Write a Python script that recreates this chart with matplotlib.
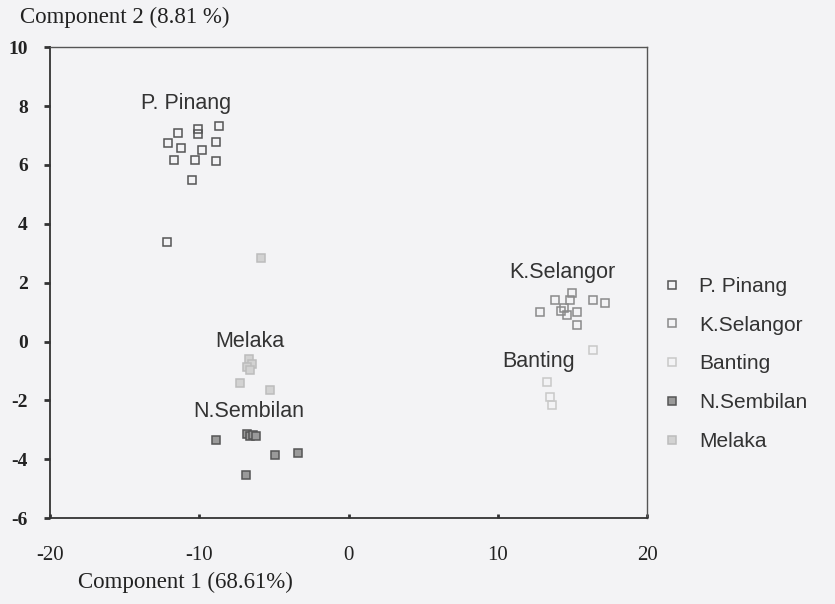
import matplotlib
matplotlib.use("Agg")
import matplotlib.pyplot as plt

# ---- data ----
groups = ["P. Pinang", "K.Selangor", "Banting", "N.Sembilan", "Melaka"]

pinang_x = [-11.4, -12.1, -11.2, -10.1, -10.1, -8.7, -8.9, -9.8, -11.7, -10.3, -8.9, -10.5, -12.2]
pinang_y = [7.08, 6.74, 6.57, 7.21, 7.04, 7.32, 6.77, 6.50, 6.16, 6.16, 6.13, 5.48, 3.38]

selangor_x = [12.8, 13.8, 15.0, 14.8, 14.4, 14.6, 15.3, 15.3, 16.4, 17.2, 14.2]
selangor_y = [1.00, 1.41, 1.64, 1.41, 1.13, 0.90, 1.00, 0.56, 1.41, 1.30, 1.05]

banting_x = [16.4, 13.3, 13.5, 13.6]
banting_y = [-0.29, -1.38, -1.89, -2.16]

sembilan_x = [-6.8, -6.6, -6.4, -6.2, -8.9, -4.9, -3.4, -6.9]
sembilan_y = [-3.15, -3.20, -3.18, -3.22, -3.35, -3.86, -3.79, -4.54]

melaka_x = [-6.7, -6.5, -6.8, -6.6, -7.3, -5.3, -5.9]
melaka_y = [-0.60, -0.75, -0.85, -0.95, -1.41, -1.65, 2.83]

x_ticks = [-20, -10, 0, 10, 20]
y_ticks = [10, 8, 6, 4, 2, 0, -2, -4, -6]

# label positions for in-plot group names
label_text = ["P. Pinang", "Melaka", "N.Sembilan", "K.Selangor", "Banting"]
label_x = [-10.9, -6.6, -6.7, 14.3, 12.7]
label_y = [8.1, 0.0, -2.36, 2.36, -0.67]

bg = "#f3f3f5"
fig = plt.figure(figsize=(8.35, 6.04), dpi=100, facecolor=bg)
ax = fig.add_axes([0.060, 0.142, 0.715, 0.780])
ax.set_facecolor(bg)

styles = {
    "P. Pinang": dict(mfc="none", mec="#555555"),
    "K.Selangor": dict(mfc="none", mec="#8a8a8a"),
    "Banting": dict(mfc="none", mec="#c8c8c8"),
    "N.Sembilan": dict(mfc="#9a9a9a", mec="#555555"),
    "Melaka": dict(mfc="#d2d2d2", mec="#bcbcbc"),
}
data = {
    "P. Pinang": (pinang_x, pinang_y),
    "K.Selangor": (selangor_x, selangor_y),
    "Banting": (banting_x, banting_y),
    "N.Sembilan": (sembilan_x, sembilan_y),
    "Melaka": (melaka_x, melaka_y),
}
for g in groups:
    xs, ys = data[g]
    ax.plot(xs, ys, linestyle="none", marker="s", markersize=5.5,
            markeredgewidth=1.1, label=g, **styles[g])

for t, x, y in zip(label_text, label_x, label_y):
    ax.text(x, y, t, ha="center", va="center", fontsize=15.5,
            family="Liberation Sans", color="#333333")

ax.set_xlim(-20, 20)
ax.set_ylim(-6, 10)
ax.set_xticks(x_ticks)
ax.set_yticks(y_ticks)
ax.set_xticklabels([str(v) for v in x_ticks], family="Liberation Serif", fontsize=15, color="#222222")
ax.set_yticklabels([str(v) for v in y_ticks], family="Liberation Serif", fontsize=14,
                   fontweight="bold", color="#222222")
ax.tick_params(axis="x", direction="in", length=3, width=2, pad=20, colors="#333333")
ax.tick_params(axis="y", direction="out", length=4, width=2, pad=12, colors="#333333")
for lab in ax.get_xticklabels() + ax.get_yticklabels():
    lab.set_color("#222222")
for s in ["left", "bottom"]:
    ax.spines[s].set_color("#333333")
    ax.spines[s].set_linewidth(1.3)
for s in ["top", "right"]:
    ax.spines[s].set_color("#555555")
    ax.spines[s].set_linewidth(1.0)

fig.text(0.024, 0.972, "Component 2 (8.81 %)", family="Liberation Serif",
         fontsize=16.5, color="#222222", ha="left", va="center")
fig.text(0.094, 0.035, "Component 1 (68.61%)", family="Liberation Serif",
         fontsize=16.5, color="#222222", ha="left", va="center")

leg = ax.legend(loc="upper left", bbox_to_anchor=(1.01, 0.53), frameon=False,
                prop={"family": "Liberation Sans", "size": 15},
                handlelength=1.0, handletextpad=0.8, labelspacing=0.95,
                borderaxespad=0.0)
for txt in leg.get_texts():
    txt.set_color("#333333")

fig.savefig("out.png", dpi=100, facecolor=bg)
